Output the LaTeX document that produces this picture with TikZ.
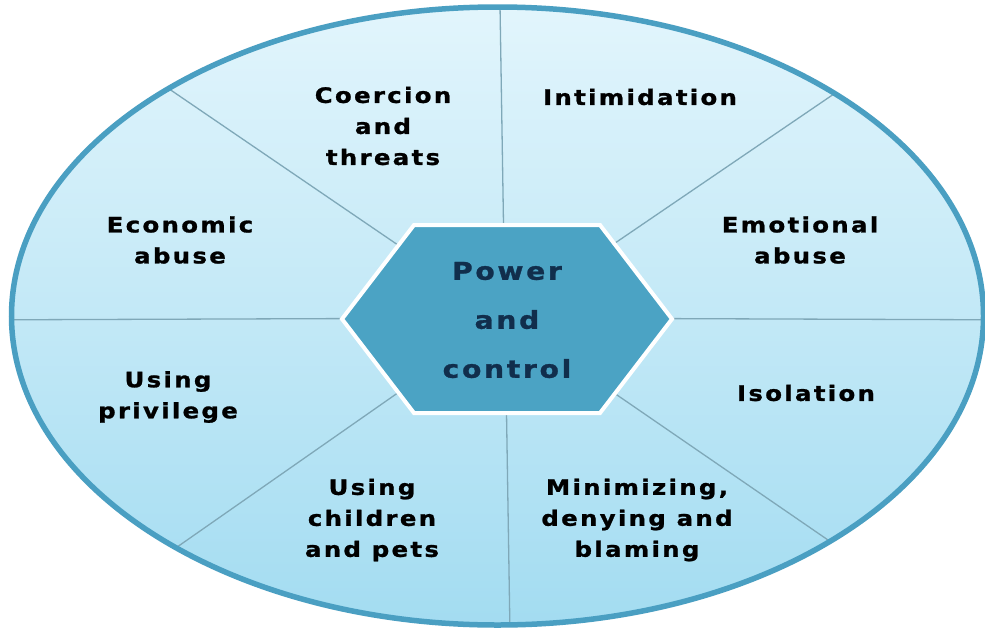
\documentclass[tikz,border=0pt]{standalone}
\usepackage{fontspec}
\setmainfont{DejaVu Sans}
\newfontfamily\wheelfont[LetterSpace=11,FakeStretch=1.15,FakeBold=1.2]{DejaVu Sans}
\definecolor{rimblue}{HTML}{4A9FC2}
\definecolor{hexblue}{HTML}{4BA3C4}
\definecolor{spokegray}{HTML}{7FA8B8}
\definecolor{skytop}{HTML}{E2F5FC}
\definecolor{skybot}{HTML}{A3DCF1}
\definecolor{navy}{HTML}{112E4C}
\tikzset{
	sector/.style={font=\wheelfont\bfseries\fontsize{21.2}{31}\selectfont, align=center, text=black},
	hub/.style={font=\wheelfont\bfseries\fontsize{24.5}{49}\selectfont, align=center, text=navy},
	spoke/.style={draw=spokegray, line width=1.3pt}
}
\begin{document}
\begin{tikzpicture}[x=1pt,y=-1pt]
	\useasboundingbox (0,0) rectangle (985,629);
	\fill[white] (0,0) rectangle (985,629);
	% wheel
	\shade[top color=skytop, bottom color=skybot] (497.5,316) ellipse [x radius=486, y radius=309];
	\begin{scope}
		\clip (497.5,316) ellipse [x radius=486, y radius=309];
		\coordinate (c) at (505,318);
		\foreach \ex/\ey in {498/-120, 512/760, -50/320, 1050/320, -149/-128, 1151/-122, -145/772, 1151/762}
			\draw[spoke] (c) -- (\ex,\ey);
	\end{scope}
	\draw[rimblue, line width=5.5pt] (497.5,316) ellipse [x radius=486, y radius=309];
	% hub
	\draw[white, line width=4pt, fill=hexblue, line join=miter]
		(342,319) -- (414,225) -- (600,225) -- (672,319) -- (600,413) -- (414,413) -- cycle;
	\node[hub] (power) at (507,320) {Power\\and\\control};
	% sectors
	\node[sector] (coercion) at (383,126) {Coercion\\and\\threats};
	\node[sector] (intim) at (640,97) {Intimidation};
	\node[sector] (econ) at (180,240) {Economic\\abuse};
	\node[sector] (emot) at (800,240) {Emotional\\abuse};
	\node[sector] (priv) at (168,397) {Using\\privilege};
	\node[sector] (isol) at (806,393) {Isolation};
	\node[sector] (child) at (372,520) {Using\\children\\and pets};
	\node[sector] (minim) at (637,520) {Minimizing,\\denying and\\blaming};
\end{tikzpicture}
\end{document}
